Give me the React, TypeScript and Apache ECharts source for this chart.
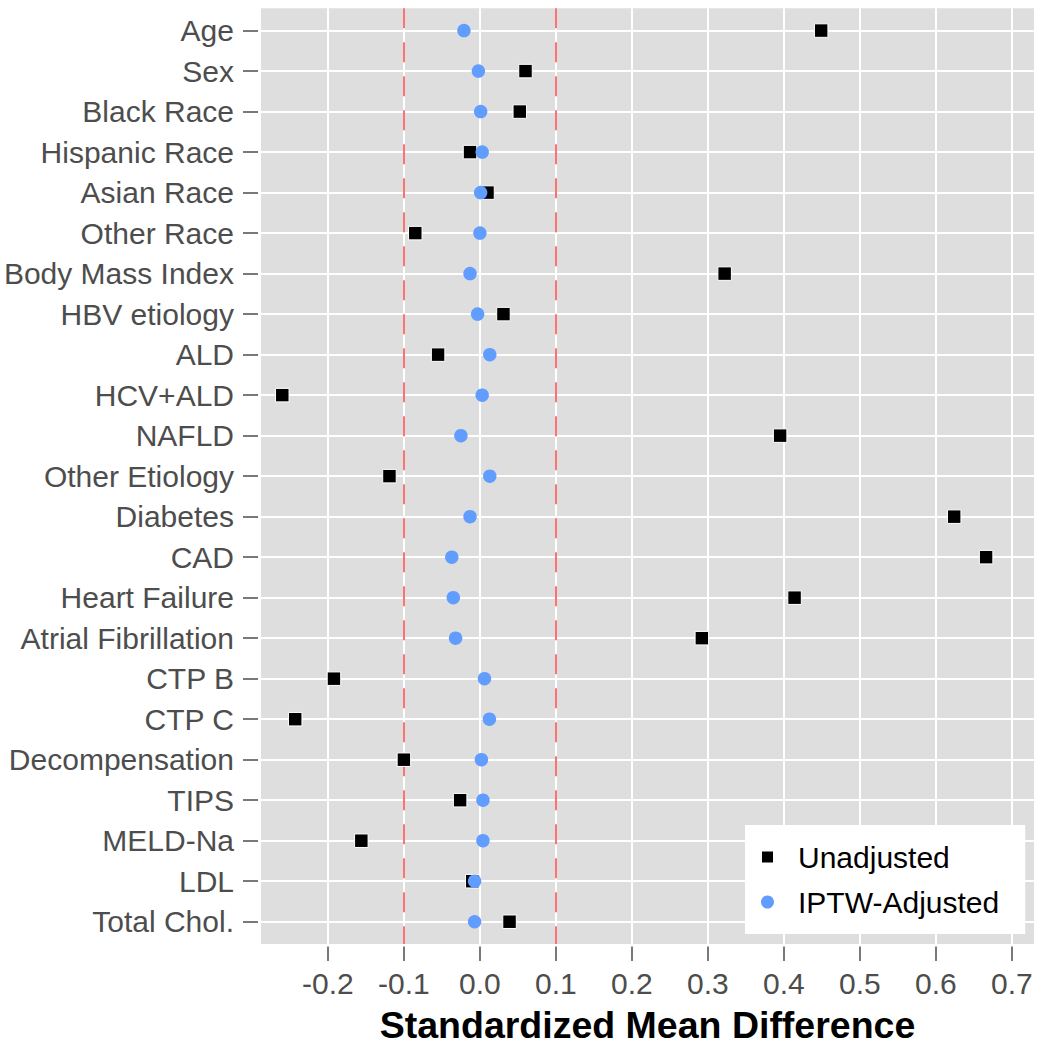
import React, { useEffect, useRef } from "react";
import * as echarts from "echarts";

const categories = [
  "Age", "Sex", "Black Race", "Hispanic Race", "Asian Race", "Other Race",
  "Body Mass Index", "HBV etiology", "ALD", "HCV+ALD", "NAFLD", "Other Etiology",
  "Diabetes", "CAD", "Heart Failure", "Atrial Fibrillation", "CTP B", "CTP C",
  "Decompensation", "TIPS", "MELD-Na", "LDL", "Total Chol.",
];

const unadjusted = [
  0.449, 0.06, 0.0525, -0.013, 0.01, -0.085, 0.322, 0.031, -0.055, -0.26, 0.395,
  -0.119, 0.624, 0.666, 0.414, 0.292, -0.192, -0.243, -0.1, -0.026, -0.156, -0.01, 0.039,
];

const iptwAdjusted = [
  -0.021, -0.002, 0.001, 0.003, 0.001, 0.0, -0.013, -0.003, 0.013, 0.003, -0.025,
  0.013, -0.013, -0.037, -0.035, -0.032, 0.006, 0.0125, 0.002, 0.004, 0.004, -0.007, -0.007,
];

const xTicks = [-0.2, -0.1, 0.0, 0.1, 0.2, 0.3, 0.4, 0.5, 0.6, 0.7];
const thresholds = [-0.1, 0.1];

const FONT = "'Liberation Sans', Arial, Helvetica, sans-serif";

export default function App() {
  const ref = useRef<HTMLDivElement>(null);

  useEffect(() => {
    document.body.style.margin = "0";
    const chart = echarts.init(ref.current!, null, { renderer: "svg" });
    const yIdx = categories.map((_, i) => i);

    chart.setOption({
      animation: false,
      textStyle: { fontFamily: FONT },
      grid: {
        left: 261,
        right: 11,
        top: 8.3,
        bottom: 106,
        show: true,
        backgroundColor: "#dedede",
        borderWidth: 0,
      },
      legend: {
        orient: "vertical",
        left: 745,
        top: 825,
        padding: [17, 26, 17, 15],
        backgroundColor: "#ffffff",
        itemWidth: 13,
        itemHeight: 13,
        itemGap: 15,
        data: [
          { name: "Unadjusted", icon: "rect" },
          { name: "IPTW-Adjusted", icon: "circle" },
        ],
        textStyle: {
          fontFamily: FONT,
          fontSize: 30,
          color: "#000000",
          padding: [0, 0, 0, 19],
        },
      },
      xAxis: {
        type: "value",
        min: -0.288,
        max: 0.729,
        offset: 2.5,
        axisLine: { show: false, onZero: false },
        axisTick: {
          show: true,
          length: 14.5,
          customValues: xTicks,
          lineStyle: { color: "#4d4d4d", width: 1.5 },
        },
        axisLabel: {
          customValues: xTicks,
          formatter: (v: number) => v.toFixed(1),
          fontSize: 30,
          color: "#4d4d4d",
          margin: 22,
          fontFamily: FONT,
        },
        splitLine: { show: true, lineStyle: { color: "#ffffff", width: 2 } },
        name: "Standardized Mean Difference",
        nameLocation: "middle",
        nameGap: 59,
        nameTextStyle: {
          fontSize: 37.5,
          fontWeight: "bold",
          color: "#000000",
          fontFamily: FONT,
        },
      },
      yAxis: {
        type: "value",
        inverse: true,
        min: -0.55,
        max: 22.55,
        offset: 3,
        axisLine: { show: false, onZero: false },
        axisTick: {
          show: true,
          length: 15,
          customValues: yIdx,
          lineStyle: { color: "#4d4d4d", width: 1.5 },
        },
        axisLabel: {
          customValues: yIdx,
          formatter: (v: number) => categories[Math.round(v)] ?? "",
          fontSize: 30,
          color: "#4d4d4d",
          margin: 24,
          fontFamily: FONT,
        },
        splitLine: { show: true, lineStyle: { color: "#ffffff", width: 2 } },
      },
      series: [
        {
          name: "Unadjusted",
          type: "scatter",
          symbol: "rect",
          symbolSize: 13.5,
          z: 3,
          itemStyle: { color: "#000000", borderColor: "#ffffff", borderWidth: 1, opacity: 1 },
          data: unadjusted.map((v, i) => [v, i]),
          markLine: {
            silent: true,
            z: 1,
            symbol: "none",
            label: { show: false },
            lineStyle: { color: "#ff4f4f", width: 1.6, type: [20, 14], opacity: 1 },
            data: thresholds.map((t) => ({ xAxis: t })),
          },
        },
        {
          name: "IPTW-Adjusted",
          type: "scatter",
          symbol: "circle",
          symbolSize: 13.5,
          z: 4,
          itemStyle: { color: "#619cff", opacity: 1 },
          data: iptwAdjusted.map((v, i) => [v, i]),
        },
      ],
    });

    return () => chart.dispose();
  }, []);

  return <div ref={ref} style={{ width: 1045, height: 1050 }} />;
}
